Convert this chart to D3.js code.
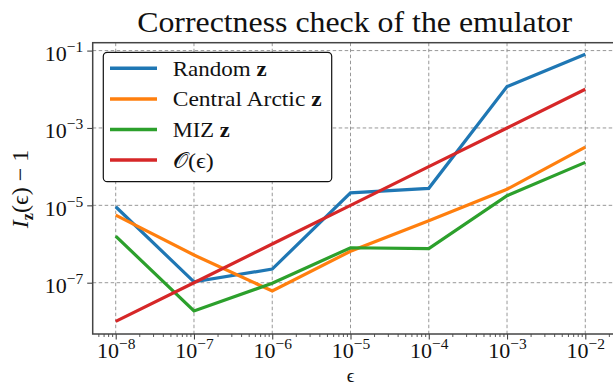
<!DOCTYPE html>
<html>
<head>
<meta charset="utf-8">
<script src="https://cdn.jsdelivr.net/npm/d3@7"></script>
<style>
  body { margin: 0; background: #fff; }
  svg { display: block; }
</style>
</head>
<body>
<svg id="chart" width="613" height="386"></svg>
<script>
// Perturbation sizes and the relative deviation I_z(eps) - 1 for each starting state
const epsilons = [1e-8, 1e-7, 1e-6, 1e-5, 1e-4, 1e-3, 1e-2];
const randomZ = [9.2e-6, 1.05e-7, 2.25e-7, 2.1e-5, 2.75e-5, 1.17e-2, 8.0e-2];
const centralArcticZ = [5.6e-6, 5.2e-7, 6.1e-8, 6.5e-7, 4.0e-6, 2.6e-5, 3.2e-4];
const mizZ = [1.6e-6, 1.86e-8, 9.7e-8, 8.0e-7, 7.6e-7, 1.77e-5, 1.29e-4];
const orderEps = [1e-8, 1e-7, 1e-6, 1e-5, 1e-4, 1e-3, 1e-2];

const seriesLabels = ["Random", "Central Arctic", "MIZ"];
const seriesColors = ["#1f77b4", "#ff7f0e", "#2ca02c", "#d62728"];

const xTickExponents = [-8, -7, -6, -5, -4, -3, -2];
const yTickExponents = [-1, -3, -5, -7];

const serif = "'Liberation Serif', 'DejaVu Serif', serif";
const axisColor = "#444";

const svg = d3.select("#chart");
const plot = { left: 92.7, right: 616.6, top: 42.7, bottom: 334 };

const x = d3.scaleLog().domain([10 ** -8.294, 10 ** -1.6]).range([plot.left, plot.right]);
const y = d3.scaleLog().domain([10 ** -8.326, 10 ** -0.796]).range([plot.bottom, plot.top]);

const xMajors = xTickExponents.map(e => 10 ** e);
const yMajors = yTickExponents.map(e => 10 ** e);
const xMinors = [];
for (let e = -9; e <= -2; e++) {
  for (let k = 2; k <= 9; k++) {
    const v = k * 10 ** e;
    if (v > x.domain()[0] && v < x.domain()[1]) xMinors.push(v);
  }
}

// Dashed grid at the major ticks
const grid = svg.append("g").attr("stroke", "#8c8c8c").attr("stroke-width", 0.9)
  .attr("stroke-dasharray", "3.5,2.5").attr("fill", "none");
grid.selectAll("line.gx").data(xMajors).join("line")
  .attr("x1", d => x(d)).attr("x2", d => x(d))
  .attr("y1", plot.top).attr("y2", plot.bottom);
grid.selectAll("line.gy").data(yMajors).join("line")
  .attr("y1", d => y(d)).attr("y2", d => y(d))
  .attr("x1", plot.left).attr("x2", plot.right);

// Series lines
const line = d3.line().x(d => x(d[0])).y(d => y(d[1]));
const seriesValues = [randomZ, centralArcticZ, mizZ, orderEps];
seriesValues.forEach((vals, i) => {
  svg.append("path")
    .datum(epsilons.map((e, j) => [e, vals[j]]))
    .attr("d", line)
    .attr("fill", "none")
    .attr("stroke", seriesColors[i])
    .attr("stroke-width", 3.2)
    .attr("stroke-linejoin", "miter");
});

// Axes
function powerLabel(sel, supShift) {
  sel.selectAll(".tick text").each(function (d) {
    const t = d3.select(this);
    const exp = Math.round(Math.log10(d));
    t.text(null);
    t.append("tspan").text("10");
    t.append("tspan").attr("dy", supShift).attr("font-size", 15.5).text("\u2212" + Math.abs(exp));
  });
}

const xAxis = svg.append("g").attr("transform", `translate(0,${plot.bottom})`)
  .call(d3.axisBottom(x).tickValues(xMajors).tickSize(5.5).tickPadding(3).tickFormat(d => d));
xAxis.select(".domain").remove();
xAxis.selectAll(".tick line").attr("stroke", axisColor).attr("stroke-width", 1.1);
xAxis.selectAll(".tick text").attr("font-family", serif).attr("font-size", 22).attr("fill", "#111");
powerLabel(xAxis, -9);

const xMinorAxis = svg.append("g").attr("transform", `translate(0,${plot.bottom})`)
  .call(d3.axisBottom(x).tickValues(xMinors).tickSize(3).tickFormat(""));
xMinorAxis.select(".domain").remove();
xMinorAxis.selectAll(".tick line").attr("stroke", axisColor).attr("stroke-width", 0.9);

const yAxis = svg.append("g").attr("transform", `translate(${plot.left},0)`)
  .call(d3.axisLeft(y).tickValues(yMajors).tickSize(5.5).tickPadding(4).tickFormat(d => d));
yAxis.select(".domain").remove();
yAxis.selectAll(".tick line").attr("stroke", axisColor).attr("stroke-width", 1.1);
yAxis.selectAll(".tick text").attr("font-family", serif).attr("font-size", 22)
  .attr("fill", "#111").attr("dy", "0.45em");
powerLabel(yAxis, -9);

// Spines (right spine lies just past the visible area)
svg.append("rect")
  .attr("x", plot.left).attr("y", plot.top)
  .attr("width", plot.right - plot.left).attr("height", plot.bottom - plot.top)
  .attr("fill", "none").attr("stroke", axisColor).attr("stroke-width", 1.5);

// Title
svg.append("text")
  .attr("x", (plot.left + plot.right) / 2).attr("y", 32)
  .attr("text-anchor", "middle")
  .attr("font-family", serif).attr("font-size", 29).attr("fill", "#111")
  .attr("textLength", 435).attr("lengthAdjust", "spacingAndGlyphs")
  .text("Correctness check of the emulator");

// Axis labels
const yLabel = svg.append("text")
  .attr("transform", "translate(28,189) rotate(-90)")
  .attr("text-anchor", "middle")
  .attr("font-family", serif).attr("font-size", 24).attr("fill", "#111");
yLabel.append("tspan").attr("font-style", "italic").text("I");
yLabel.append("tspan").attr("font-weight", "bold").attr("font-size", 16).attr("dy", 5).text("z");
yLabel.append("tspan").attr("dy", -5).text("(\u03F5) \u2212 1");

svg.append("text")
  .attr("x", (plot.left + plot.right) / 2 - 4).attr("y", 381.5)
  .attr("text-anchor", "middle")
  .attr("font-family", serif).attr("font-size", 19).attr("fill", "#111")
  .text("\u03F5");

// Legend
const legend = svg.append("g");
legend.append("rect")
  .attr("x", 103.3).attr("y", 52.3).attr("width", 228.4).attr("height", 129.4)
  .attr("rx", 4).attr("fill", "#fff").attr("stroke", "#111").attr("stroke-width", 1.2);
const legendLabels = seriesLabels.map(s => [s, "z"]).concat([["O", null]]);
const legendTextWidths = [94, 149, 57, 41];
legendLabels.forEach((lab, i) => {
  const cy = 68.3 + i * 30.6;
  legend.append("line")
    .attr("x1", 110).attr("x2", 157).attr("y1", cy).attr("y2", cy)
    .attr("stroke", seriesColors[i]).attr("stroke-width", 3.5);
  const t = legend.append("text")
    .attr("x", 172.7).attr("y", cy + 7.5)
    .attr("font-family", serif).attr("font-size", 22).attr("fill", "#111")
    .attr("textLength", legendTextWidths[i]).attr("lengthAdjust", "spacingAndGlyphs");
  if (lab[1]) {
    t.append("tspan").text(lab[0] + " ");
    t.append("tspan").attr("font-weight", "bold").text(lab[1]);
  } else {
    t.append("tspan").text("\uD835\uDCAA");
    t.append("tspan").text("(\u03F5)");
  }
});
</script>
</body>
</html>
